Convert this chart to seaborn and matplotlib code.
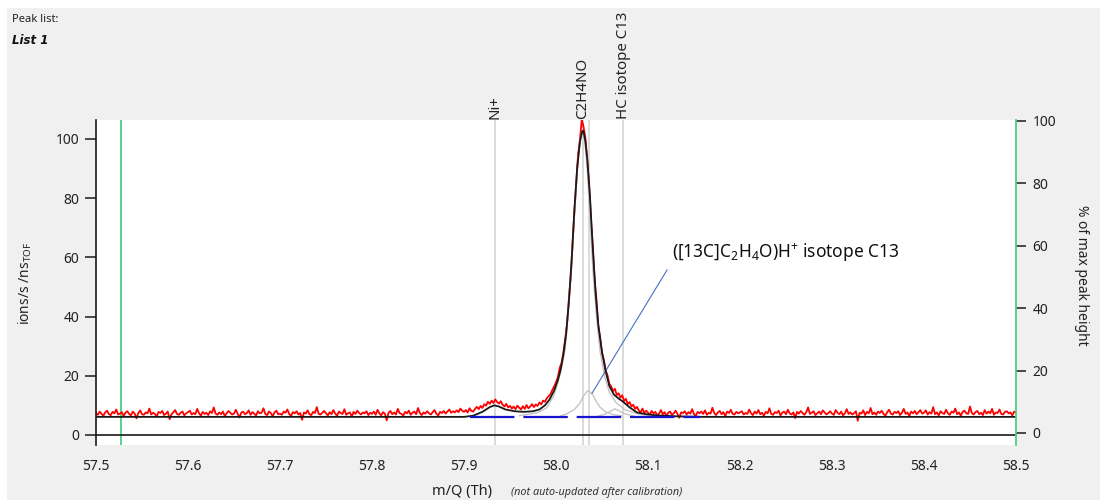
import numpy as np
import matplotlib
matplotlib.use("Agg")
import matplotlib.pyplot as plt
from matplotlib.patches import Rectangle
import matplotlib.transforms as mtransforms
import seaborn as sns

# measured spectrum (red), 0.002 Th bins starting at 57.5
mz_start = 57.5
mz_step = 0.002
red_counts = [
    # 57.500 - 57.598
    7.4, 6.8, 7.9, 7.1, 6.5, 7.6, 8.2, 7.0, 6.7, 7.8,
    7.3, 8.6, 6.9, 7.2, 7.7, 6.4, 7.5, 8.0, 7.1, 6.6,
    7.9, 7.2, 5.6, 7.4, 8.3, 7.0, 6.8, 7.6, 7.3, 8.9,
    6.9, 7.5, 7.1, 6.2, 7.8, 7.4, 8.1, 6.7, 7.2, 7.9,
    5.3, 7.0, 7.6, 8.4, 7.1, 6.8, 7.5, 7.9, 6.6, 7.3,
    # 57.600 - 57.698
    7.7, 8.2, 6.9, 7.4, 7.0, 8.8, 7.3, 6.5, 7.8, 7.1,
    7.5, 6.7, 8.0, 7.4, 9.3, 7.2, 6.8, 7.6, 7.0, 7.9,
    6.4, 7.3, 8.1, 7.5, 6.9, 7.2, 8.5, 7.1, 5.9, 7.6,
    7.8, 7.0, 7.4, 8.3, 6.8, 7.7, 7.2, 6.6, 8.0, 7.3,
    7.5, 9.0, 7.1, 6.7, 7.9, 7.4, 6.3, 7.6, 8.2, 7.0,
    # 57.700 - 57.798
    7.2, 6.8, 7.9, 7.5, 8.6, 7.1, 6.4, 7.7, 7.3, 8.0,
    6.9, 7.4, 5.1, 7.6, 7.2, 8.3, 7.0, 6.7, 7.8, 7.4,
    9.4, 7.1, 6.9, 7.5, 8.1, 7.3, 6.6, 7.7, 7.0, 8.4,
    7.2, 6.5, 7.9, 7.4, 7.1, 8.7, 6.8, 7.3, 7.6, 6.2,
    7.8, 7.1, 8.2, 7.4, 6.9, 7.6, 7.3, 8.0, 6.7, 7.5,
    # 57.800 - 57.898
    7.1, 7.9, 6.8, 8.5, 7.3, 6.6, 7.7, 7.2, 4.9, 7.5,
    8.1, 7.0, 7.6, 6.9, 8.8, 7.4, 7.1, 6.5, 7.8, 7.3,
    8.2, 6.8, 7.5, 7.9, 7.0, 9.1, 7.4, 6.7, 7.6, 7.2,
    8.0, 7.3, 6.9, 7.7, 8.4, 7.1, 6.6, 7.8, 7.4, 8.1,
    7.2, 7.9, 8.6, 7.5, 8.0, 7.6, 8.3, 7.7, 8.9, 8.2,
    # 57.900 - 57.998
    7.8, 8.4, 7.6, 9.0, 8.1, 7.9, 8.8, 9.5, 8.7, 9.8,
    9.1, 10.4, 9.9, 11.2, 10.5, 11.6, 10.8, 12.0, 11.1, 10.6,
    11.4, 10.2, 9.6, 10.5, 9.3, 9.8, 8.9, 9.6, 8.7, 9.9,
    9.2, 8.6, 9.7, 8.8, 10.1, 9.0, 9.6, 10.4, 9.4, 10.3,
    9.8, 11.0, 10.3, 11.6, 11.2, 12.4, 13.1, 13.8, 15.2, 16.4,
    # 58.000 - 58.098
    17.8, 19.5, 22.6, 24.3, 27.9, 32.4, 37.5, 45.8, 53.4, 64.7,
    75.6, 85.2, 94.8, 99.6, 106.5, 104.0, 100.2, 92.4, 84.9, 72.6,
    63.8, 52.4, 45.6, 36.8, 32.9, 27.6, 25.4, 21.8, 20.1, 17.2,
    16.4, 14.8, 15.6, 13.5, 14.1, 12.6, 13.4, 11.5, 12.2, 10.4,
    11.1, 9.6, 10.2, 8.8, 9.5, 8.3, 7.6, 8.9, 7.4, 8.2,
    # 58.100 - 58.198
    7.5, 6.9, 8.1, 7.3, 7.8, 6.6, 7.2, 8.4, 7.0, 7.7,
    6.4, 7.5, 7.9, 6.8, 7.3, 8.2, 7.1, 5.8, 7.6, 7.4,
    8.0, 6.9, 7.7, 7.2, 8.7, 7.0, 6.5, 7.8, 7.3, 7.9,
    7.1, 8.3, 6.8, 7.5, 7.2, 9.2, 7.4, 6.7, 7.6, 8.1,
    7.0, 7.7, 6.3, 7.9, 7.4, 8.5, 7.1, 6.9, 7.8, 7.3,
    # 58.200 - 58.298
    7.6, 8.0, 6.9, 7.4, 7.1, 8.6, 7.3, 6.7, 7.9, 7.2,
    8.4, 7.0, 7.5, 6.5, 7.8, 7.3, 9.0, 7.1, 6.8, 7.7,
    7.4, 8.2, 6.6, 7.5, 7.9, 7.0, 8.5, 7.3, 6.9, 7.6,
    5.7, 7.8, 7.2, 8.1, 7.4, 6.8, 7.7, 9.3, 7.1, 7.5,
    8.0, 6.7, 7.3, 7.9, 7.0, 8.3, 7.6, 6.9, 7.4, 8.0,
    # 58.300 - 58.398
    7.2, 6.8, 8.4, 7.5, 7.0, 7.9, 6.6, 7.3, 8.7, 7.1,
    7.6, 6.9, 7.4, 8.0, 4.8, 7.5, 7.2, 8.3, 6.7, 7.8,
    7.3, 9.1, 7.0, 7.6, 6.8, 7.9, 7.4, 8.2, 7.1, 6.5,
    7.7, 8.5, 7.2, 6.9, 7.8, 7.4, 8.0, 6.7, 7.5, 8.8,
    7.1, 7.6, 6.4, 7.9, 7.3, 8.1, 7.0, 7.7, 8.4, 7.2,
    # 58.400 - 58.500
    7.5, 8.3, 6.9, 7.7, 7.2, 9.4, 7.0, 7.6, 6.6, 8.0,
    7.4, 7.1, 8.5, 7.3, 6.8, 7.9, 7.5, 8.9, 7.0, 7.6,
    6.5, 7.8, 8.2, 7.3, 7.1, 9.6, 7.4, 6.9, 7.7, 8.1,
    7.0, 7.5, 6.7, 8.4, 7.2, 7.9, 7.3, 8.8, 6.8, 7.6,
    7.4, 8.6, 7.1, 6.9, 7.8, 8.0, 7.3, 7.6, 6.6, 7.9,
    7.5,
]

# cumulative fit (black)
fit_mz = [57.500, 57.900, 57.910, 57.920, 57.928, 57.933, 57.938, 57.945, 57.955, 57.965,
          57.975, 57.982, 57.988, 57.993, 57.998, 58.002, 58.005, 58.008, 58.011, 58.014,
          58.017, 58.020, 58.023, 58.026, 58.028, 58.029, 58.030, 58.032, 58.034, 58.037,
          58.040, 58.043, 58.046, 58.050, 58.054, 58.058, 58.063, 58.068, 58.073, 58.080,
          58.088, 58.098, 58.110, 58.130, 58.160, 58.500]
fit_val = [6.1, 6.1, 6.5, 7.8, 9.4, 10.0, 9.6, 8.6, 8.0, 7.8,
           8.0, 8.6, 10.0, 12.0, 15.0, 18.5, 22.0, 27.0, 34.0, 45.0,
           59.0, 76.0, 90.0, 99.0, 102.0, 102.8, 102.5, 99.0, 93.0, 80.0,
           63.0, 48.0, 37.0, 28.0, 21.5, 16.5, 13.6, 12.3, 11.2, 9.3,
           7.6, 7.0, 6.6, 6.3, 6.1, 6.1]

# individual peak components (grey)
main_mz = [57.960, 57.980, 57.990, 57.998, 58.005, 58.010, 58.015, 58.020, 58.024, 58.027,
           58.029, 58.031, 58.034, 58.037, 58.040, 58.044, 58.048, 58.053, 58.058, 58.065,
           58.075, 58.090, 58.110]
main_val = [6.5, 7.5, 9.2, 13.5, 21.0, 29.0, 49.0, 74.0, 93.0, 101.0,
            102.0, 100.0, 90.0, 73.0, 56.0, 40.0, 28.0, 19.5, 14.5, 11.0,
            8.5, 7.0, 6.3]
iso_mz = [58.005, 58.012, 58.020, 58.026, 58.030, 58.034, 58.036, 58.040, 58.044, 58.048,
          58.054, 58.062, 58.072]
iso_val = [6.4, 7.2, 8.6, 10.8, 13.2, 14.8, 14.9, 13.5, 11.2, 9.3,
           7.8, 6.9, 6.4]
hc_mz = [58.045, 58.053, 58.059, 58.064, 58.069, 58.075, 58.085]
hc_val = [6.3, 7.0, 8.0, 8.8, 8.1, 7.1, 6.4]

# background (blue dashed)
bg_mz = [57.907, 58.157]
bg_val = [6.0, 6.0]

# peak markers
peak_names = ["Ni+", "C2H4NO", "", "HC isotope C13"]
peak_pos = [57.934, 58.029, 58.036, 58.073]
range_marker = 57.527

iso_label = "([13C]C$_2$H$_4$O)H$^{+}$ isotope C13"

sns.set_theme(style="white")
plt.rcParams["font.family"] = ["Noto Sans", "DejaVu Sans"]
plt.rcParams["mathtext.default"] = "regular"

mz_red = np.round(mz_start + mz_step * np.arange(len(red_counts)), 3)

fig = plt.figure(figsize=(11, 5), dpi=100)
fig.patch.set_facecolor("white")
fig.patches.append(Rectangle((7 / 1100, 0), 1, 1 - 8 / 500, transform=fig.transFigure,
                             facecolor="#f0f0f0", edgecolor="none", zorder=-10))

ax = fig.add_axes([96 / 1100, 55 / 500, 920 / 1100, 325 / 500])
ax.set_facecolor("white")

for x in peak_pos:
    ax.axvline(x, color="#d4d4d4", lw=1.2, zorder=1)
ax.axvline(range_marker, color="#4cce8a", lw=1.3, zorder=1)

sns.lineplot(x=mz_red, y=red_counts, ax=ax, color="red", lw=1.3,
             estimator=None, sort=False, zorder=2)
sns.lineplot(x=main_mz, y=main_val, ax=ax, color="#c4c4c4", lw=1.0,
             estimator=None, sort=False, zorder=3)
sns.lineplot(x=iso_mz, y=iso_val, ax=ax, color="#c4c4c4", lw=1.0,
             estimator=None, sort=False, zorder=3)
sns.lineplot(x=hc_mz, y=hc_val, ax=ax, color="#c4c4c4", lw=1.0,
             estimator=None, sort=False, zorder=3)
sns.lineplot(x=fit_mz, y=fit_val, ax=ax, color="#1a1a1a", lw=1.3,
             estimator=None, sort=False, zorder=4)
ax.plot(bg_mz, bg_val, color="#1515d0", lw=1.6, dashes=(20, 4), zorder=5)

ax.set_xlim(57.5, 58.5)
ax.set_ylim(-3.4, 106.4)
ax.set_xticks([57.5, 57.6, 57.7, 57.8, 57.9, 58.0, 58.1, 58.2, 58.3, 58.4, 58.5])
ax.set_yticks([0, 20, 40, 60, 80, 100])
ax.spines["top"].set_visible(False)
ax.spines["right"].set_visible(False)
ax.spines["bottom"].set_position(("data", 0))
for s in ("left", "bottom"):
    ax.spines[s].set_color("#1a1a1a")
    ax.spines[s].set_linewidth(1.2)
ax.tick_params(axis="both", direction="out", length=8, width=1.1, color="#1a1a1a",
               labelsize=10, labelcolor="#222222")
ax.tick_params(axis="x", pad=9)
ax.tick_params(axis="y", pad=4)
ax.set_xlabel("")
ax.set_ylabel("")

ax2 = ax.twinx()
ax2.set_ylim(-3.85, 100.3)
ax2.set_yticks([0, 20, 40, 60, 80, 100])
for s in ("top", "left", "bottom"):
    ax2.spines[s].set_visible(False)
ax2.spines["right"].set_color("#4cce8a")
ax2.spines["right"].set_linewidth(1.3)
ax2.tick_params(axis="y", direction="out", length=7, width=1.1, color="#1a1a1a",
                labelsize=10, labelcolor="#222222", pad=5)
ax2.set_ylabel("")

# peak names above the plot
trans = mtransforms.blended_transform_factory(ax.transData, ax.transAxes)
for name, x in zip(peak_names, peak_pos):
    if name:
        ax.text(x, 1.004, name, transform=trans, rotation=90, ha="center", va="bottom",
                fontsize=10.8, color="#222222")

ax.annotate(iso_label, xy=(58.039, 14.0), xytext=(58.126, 61.5), fontsize=12.5,
            ha="left", va="center", color="#111111",
            arrowprops=dict(arrowstyle="-", color="#4472c4", lw=0.8,
                            relpos=(0, 0.1), shrinkA=2, shrinkB=0))

fig.text(25 / 1100, 1 - 283 / 500, "ions/s /ns$_{TOF}$", rotation=90, ha="center",
         va="center", fontsize=10, color="#222222")
fig.text(1081 / 1100, 1 - 275 / 500, "% of max peak height", rotation=270, ha="center",
         va="center", fontsize=10, color="#222222")
fig.text(462 / 1100, 1 - 492 / 500, "m/Q (Th)", ha="center", va="center",
         fontsize=10.5, color="#222222")
fig.text(511 / 1100, 1 - 493 / 500, "(not auto-updated after calibration)", ha="left",
         va="center", fontsize=7.8, style="italic", color="#333333")
fig.text(12 / 1100, 1 - 20 / 500, "Peak list:", ha="left", va="center",
         fontsize=8, color="#222222")
fig.text(12 / 1100, 1 - 40 / 500, "List 1", ha="left", va="center", family="DejaVu Sans",
         fontsize=8.5, style="italic", weight="bold", color="#111111")

fig.savefig("out.png", dpi=100)
